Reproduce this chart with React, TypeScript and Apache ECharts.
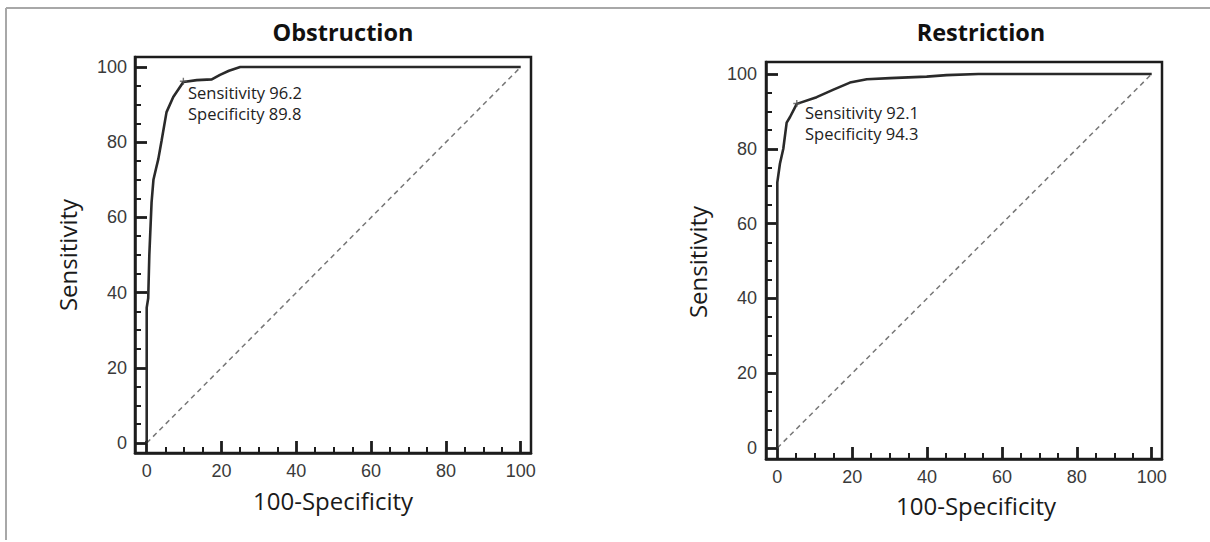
import React, { useEffect, useRef } from "react";
import * as echarts from "echarts";

// ---- data ----
const majorTicks = [0, 20, 40, 60, 80, 100];
const minorTicks = [5, 10, 15, 25, 30, 35, 45, 50, 55, 65, 70, 75, 85, 90, 95];

const obsTitle = "Obstruction";
const obsX = [0, 0, 0.4, 0.7, 1.0, 1.3, 1.8, 2.5, 3.1, 4.0, 5.3, 7.1, 9.8, 13.4, 17.4, 19.6, 22.0, 25.0, 100];
const obsY = [0, 36, 38.5, 50, 57, 64, 70, 73, 75.5, 80.5, 88, 92, 96, 96.5, 96.7, 97.9, 99, 100, 100];
const obsPoint = [9.8, 96.2];
const obsText = ["Sensitivity 96.2", "Specificity 89.8"];

const resTitle = "Restriction";
const resX = [0, 0, 0.7, 1.6, 2.5, 3.4, 5.2, 10.5, 15, 19.4, 23.9, 30.1, 39.9, 45.2, 53.7, 100];
const resY = [0, 71, 76, 80, 87, 88.5, 92, 93.8, 95.8, 97.7, 98.6, 98.9, 99.3, 99.7, 100, 100];
const resPoint = [5.2, 92.1];
const resText = ["Sensitivity 92.1", "Specificity 94.3"];

const diagX = [0, 100];
const diagY = [0, 100];

const xName = "100-Specificity";
const yName = "Sensitivity";

const zip = (xs: number[], ys: number[]) => xs.map((x, i) => [x, ys[i]]);

const BOX = "#1c1c1c";
const LABEL_FONT = "'Liberation Sans', Arial, sans-serif";
const TEXT_FONT = "'Open Sans', 'Noto Sans', sans-serif";

function axisPair(gridIndex: number, min: number, max: number, margin: number, position: string) {
  const major = {
    type: "value",
    gridIndex,
    position,
    offset: 0,
    min,
    max,
    splitLine: { show: false },
    axisLine: { show: true, onZero: false, lineStyle: { color: BOX, width: 2.5 } },
    axisTick: {
      show: true,
      inside: true,
      length: 12,
      customValues: majorTicks,
      lineStyle: { color: BOX, width: 2.8 },
    },
    axisLabel: {
      show: true,
      customValues: majorTicks,
      margin,
      fontFamily: LABEL_FONT,
      fontSize: 18,
      color: "#3a3a3a",
    },
  };
  const minor = {
    type: "value",
    gridIndex,
    position,
    offset: 0,
    min,
    max,
    splitLine: { show: false },
    axisLine: { show: false, onZero: false },
    axisTick: {
      show: true,
      inside: true,
      length: 6,
      customValues: minorTicks,
      lineStyle: { color: BOX, width: 2 },
    },
    axisLabel: { show: false },
  };
  return [major, minor];
}

function plotSeries(axisIndex: number, xs: number[], ys: number[], pt: number[]) {
  return [
    {
      type: "line",
      xAxisIndex: axisIndex,
      yAxisIndex: axisIndex,
      data: zip(diagX, diagY),
      showSymbol: false,
      silent: true,
      lineStyle: { color: "#777", width: 1.5, type: [5, 4] },
      z: 1,
    },
    {
      type: "line",
      xAxisIndex: axisIndex,
      yAxisIndex: axisIndex,
      data: zip(xs, ys),
      showSymbol: false,
      silent: true,
      lineStyle: { color: "#2a2a2a", width: 2.6 },
      z: 3,
    },
    {
      type: "scatter",
      xAxisIndex: axisIndex,
      yAxisIndex: axisIndex,
      data: [pt],
      symbol: "path://M4,0h2v10h-2zM0,4h10v2h-10z",
      symbolSize: 7,
      itemStyle: { color: "#555" },
      silent: true,
      z: 4,
    },
  ];
}

function textLines(x: number, y: number, lines: string[]) {
  return lines.map((line, i) => ({
    type: "text",
    x,
    y: y + i * 21,
    style: {
      text: line,
      fontFamily: TEXT_FONT,
      fontSize: 16.5,
      fill: "#222",
      verticalAlign: "middle",
      align: "left",
    },
  }));
}

function title(x: number, y: number, t: string) {
  return {
    type: "text",
    x,
    y,
    style: {
      text: t,
      fontFamily: TEXT_FONT,
      fontWeight: "bold",
      fontSize: 23.5,
      fill: "#111",
      align: "center",
      verticalAlign: "middle",
    },
  };
}

function axisName(x: number, y: number, t: string, rotate: boolean) {
  return {
    type: "text",
    x,
    y,
    rotation: rotate ? Math.PI / 2 : 0,
    style: {
      text: t,
      fontFamily: TEXT_FONT,
      fontSize: 24,
      fill: "#1a1a1a",
      align: "center",
      verticalAlign: "middle",
    },
  };
}

const [lx1, lx2] = axisPair(0, -3.13, 102.75, 9, "bottom");
const [ly1, ly2] = axisPair(0, -2.66, 102.66, 8, "left");
const [rx1, rx2] = axisPair(1, -3.02, 102.75, 9, "bottom");
const [ry1, ry2] = axisPair(1, -2.94, 103.2, 9, "left");

const option = {
  animation: false,
  backgroundColor: "#fff",
  grid: [
    { left: 135, top: 57, width: 396, height: 396, show: true, borderColor: BOX, borderWidth: 2.5 },
    { left: 766, top: 62, width: 396, height: 397, show: true, borderColor: BOX, borderWidth: 2.5 },
  ],
  xAxis: [lx1, lx2, rx1, rx2],
  yAxis: [ly1, ly2, ry1, ry2],
  series: [...plotSeries(0, obsX, obsY, obsPoint), ...plotSeries(2, resX, resY, resPoint)],
  graphic: [
    { type: "line", shape: { x1: 6, y1: 8, x2: 1210, y2: 8 }, style: { stroke: "#a8a8a8", lineWidth: 2 } },
    { type: "line", shape: { x1: 6, y1: 8, x2: 6, y2: 540 }, style: { stroke: "#a8a8a8", lineWidth: 2 } },
    title(343, 32, obsTitle),
    title(981, 32, resTitle),
    ...textLines(188, 92.5, obsText),
    ...textLines(805, 112, resText),
    axisName(67, 255, yName, true),
    axisName(697, 262, yName, true),
    axisName(333, 500, xName, false),
    axisName(976, 505, xName, false),
  ],
};

export default function App() {
  const ref = useRef<HTMLDivElement>(null);
  useEffect(() => {
    const chart = echarts.init(ref.current as HTMLDivElement, null, { renderer: "svg" });
    chart.setOption(option as any);
    return () => chart.dispose();
  }, []);
  return (
    <div
      ref={ref}
      style={{ position: "fixed", left: 0, top: 0, width: 1210, height: 542, background: "#fff" }}
    />
  );
}
